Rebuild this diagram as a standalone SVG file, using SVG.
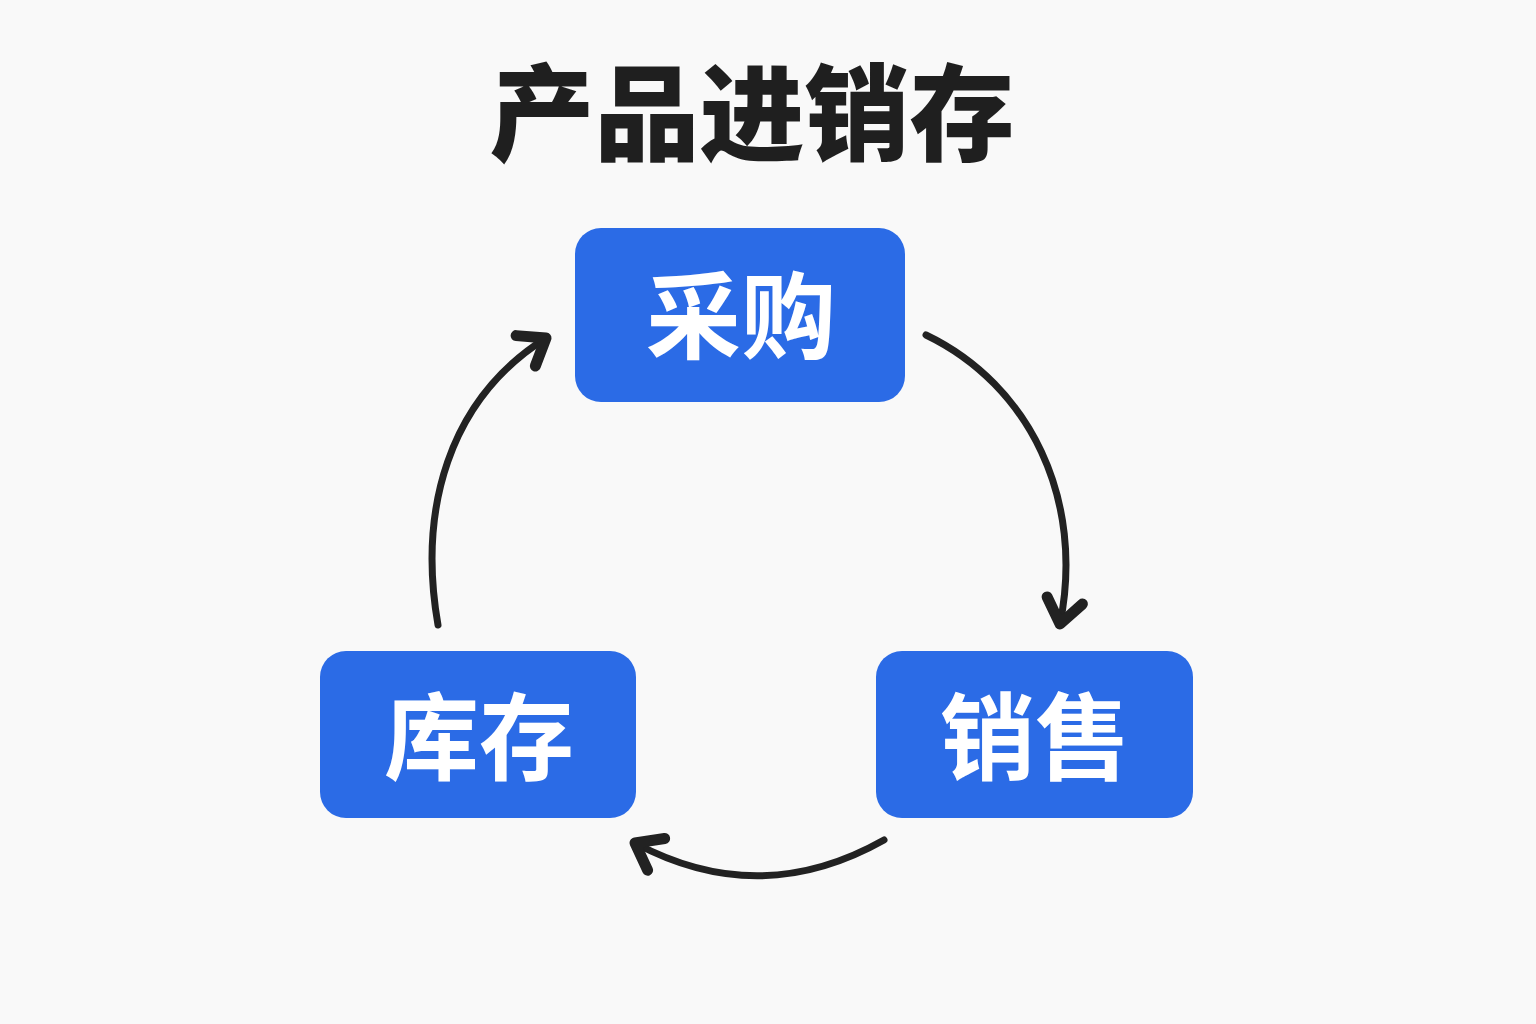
<svg xmlns="http://www.w3.org/2000/svg" width="1536" height="1024" viewBox="0 0 1536 1024">
<style>
.node rect{fill:#2b6be6;}
.node text{fill:#ffffff;font-family:"Noto Sans CJK SC","Noto Sans",sans-serif;font-weight:700;font-size:95px;text-anchor:middle;}
.title{fill:#1f1f1f;font-family:"Noto Sans CJK SC","Noto Sans",sans-serif;font-weight:900;font-size:105px;text-anchor:middle;}
.conn{fill:none;stroke:#222222;stroke-width:7;stroke-linecap:round;}
</style>
<defs>
<marker id="arr" markerUnits="userSpaceOnUse" markerWidth="60" markerHeight="60" viewBox="-40 -30 50 60" refX="0" refY="0" orient="auto">
<path d="M-24,-18 L0,0 L-24,18" fill="none" stroke="#222222" stroke-width="11" stroke-linecap="round" stroke-linejoin="round"/>
</marker>
</defs>
<rect width="1536" height="1024" fill="#f9f9f9"/>
<text class="title" x="752" y="152">产品进销存</text>
<g id="connectors">
<path class="conn" d="M438,625 C418,510 448,400 546,338" marker-end="url(#arr)"/>
<path class="conn" d="M926,335 C1030,385 1085,500 1060,624" marker-end="url(#arr)"/>
<path class="conn" d="M884,840 Q760,910 635,843" marker-end="url(#arr)"/>
</g>
<g id="node-purchase" class="node">
<rect x="575" y="228" width="330" height="174" rx="26"/>
<text x="741" y="352">采购</text>
</g>
<g id="node-inventory" class="node">
<rect x="320" y="651" width="316" height="167" rx="26"/>
<text x="479" y="773">库存</text>
</g>
<g id="node-sales" class="node">
<rect x="876" y="651" width="317" height="167" rx="26"/>
<text x="1035" y="773">销售</text>
</g>
</svg>
